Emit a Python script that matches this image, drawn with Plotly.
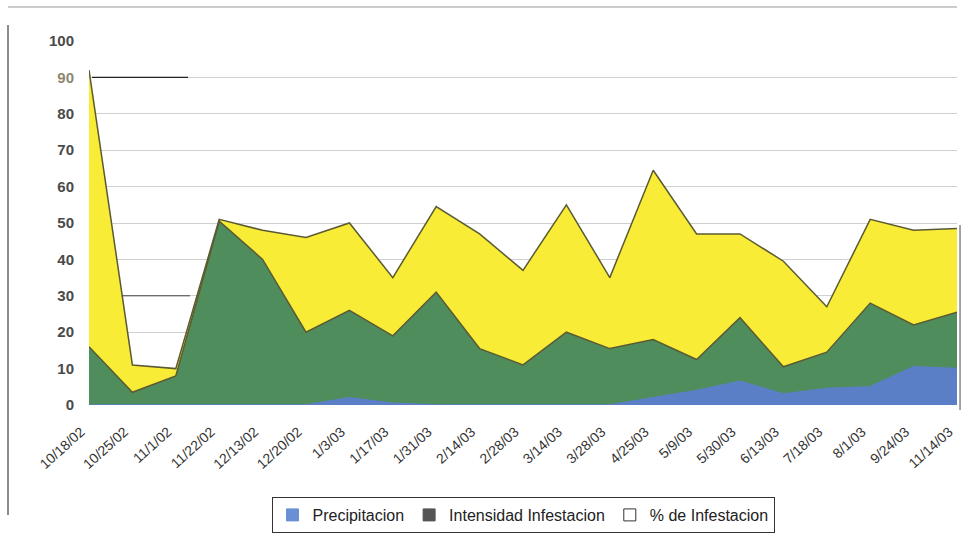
import plotly.graph_objects as go

# Tanggal pengamatan (kategori sumbu x)
fechas = ["10/18/02", "10/25/02", "11/1/02", "11/22/02", "12/13/02", "12/20/02",
          "1/3/03", "1/17/03", "1/31/03", "2/14/03", "2/28/03", "3/14/03",
          "3/28/03", "4/25/03", "5/9/03", "5/30/03", "6/13/03", "7/18/03",
          "8/1/03", "9/24/03", "11/14/03"]

# Nilai tiap seri (ditumpuk: biru di bawah, hijau di tengah, kuning di atas)
precipitacion = [0, 0, 0, 0, 0, 0, 2, 0.5, 0, 0, 0, 0, 0, 2, 4, 6.5, 3, 4.5, 5, 10.5, 10]
intensidad = [16, 3.5, 8, 50.5, 40, 20, 24, 18.5, 31, 15.5, 11, 20, 15.5, 16, 8.5, 17.5,
              7.5, 10, 23, 11.5, 15.5]
porcentaje = [76, 7.5, 2, 0.5, 8, 26, 24, 16, 23.5, 31.5, 26, 35, 19.5, 46.5, 34.5, 23,
              29, 12.5, 23, 26, 23]

y_ticks = [0, 10, 20, 30, 40, 50, 60, 70, 80, 90, 100]

# Label sumbu y (angka 90 tampak kecokelatan pada hasil pindaian)
y_labels = [f"<span style='color:#8c876e'>{v}</span>" if v == 90 else str(v) for v in y_ticks]

# Warna area, garis tepi dan simbol legend
series = [
    ("Precipitacion", precipitacion, "#5b7fc6", "#5b7fc6", "#6a8fd4", "#6a8fd4"),
    ("Intensidad Infestacion", intensidad, "#4f8d5c", "#5b5a32", "#555555", "#555555"),
    ("% de Infestacion", porcentaje, "#f8ec36", "#5b5a32", "#ffffff", "#333333"),
]

fig = go.Figure()

# Area bertumpuk untuk setiap seri
for name, values, fill, line, _, _ in series:
    fig.add_trace(go.Scatter(
        x=fechas,
        y=values,
        mode="lines",
        stackgroup="one",
        fillcolor=fill,
        line=dict(color=line, width=1.5),
        name=name,
        showlegend=False,
    ))

# Simbol legend (kotak) terpisah dari area
for name, _, _, _, sym_fill, sym_line in series:
    fig.add_trace(go.Scatter(
        x=[None], y=[None],
        mode="markers",
        marker=dict(symbol="square", size=12, color=sym_fill,
                    line=dict(color=sym_line, width=1)),
        name=name,
    ))

fig.update_layout(
    width=964,
    height=533,
    margin=dict(l=89, r=7, t=41, b=128),
    paper_bgcolor="white",
    plot_bgcolor="white",
    font=dict(family="Liberation Sans, Arial, sans-serif", color="#333333"),
    xaxis=dict(
        type="category",
        range=[0, len(fechas) - 1],
        tickangle=-42,
        tickfont=dict(size=14, color="#333333"),
        showgrid=False,
        showline=False,
        ticks="",
        ticklabelstandoff=15,
        ticklabelshift=-8,
        automargin=False,
    ),
    yaxis=dict(
        range=[0, 100],
        tickvals=y_ticks,
        ticktext=y_labels,
        tickfont=dict(size=15, color="#4a4a4a", weight="bold"),
        showgrid=True,
        gridcolor="#d0d0d0",
        gridwidth=1,
        zeroline=False,
        ticks="",
        ticklabelstandoff=14,
        automargin=False,
    ),
    legend=dict(
        orientation="h",
        traceorder="normal",
        x=0.5, xanchor="center",
        yref="container",
        y=36 / 533, yanchor="top",
        bordercolor="#333333",
        borderwidth=1,
        font=dict(size=16, color="#222222"),
        itemwidth=30,
        tracegroupgap=0,
    ),
    # Bingkai hasil pindaian (garis kiri, atas dan kanan) serta segmen grid gelap
    shapes=[
        dict(type="line", xref="paper", yref="paper", x0=-81 / 868, x1=-81 / 868,
             y0=380 / 364, y1=-110 / 364, line=dict(color="#666666", width=1.5)),
        dict(type="line", xref="paper", yref="paper", x0=-81 / 868, x1=1.0,
             y0=398 / 364, y1=398 / 364, line=dict(color="#cccccc", width=2)),
        dict(type="line", xref="paper", yref="paper", x0=1.0035, x1=1.0035,
             y0=180 / 364, y1=-5 / 364, line=dict(color="#888888", width=1.5)),
        dict(type="line", xref="paper", yref="y", x0=3 / 868, x1=99 / 868,
             y0=90, y1=90, line=dict(color="#222222", width=1.2)),
        dict(type="line", xref="paper", yref="y", x0=33 / 868, x1=101 / 868,
             y0=30, y1=30, line=dict(color="#444444", width=1)),
    ],
)

# Hilangkan margin bawaan body agar gambar tepat di pojok kiri atas
fig.write_html("out.html", config={"displayModeBar": False},
               post_script="document.body.style.margin='0';")
